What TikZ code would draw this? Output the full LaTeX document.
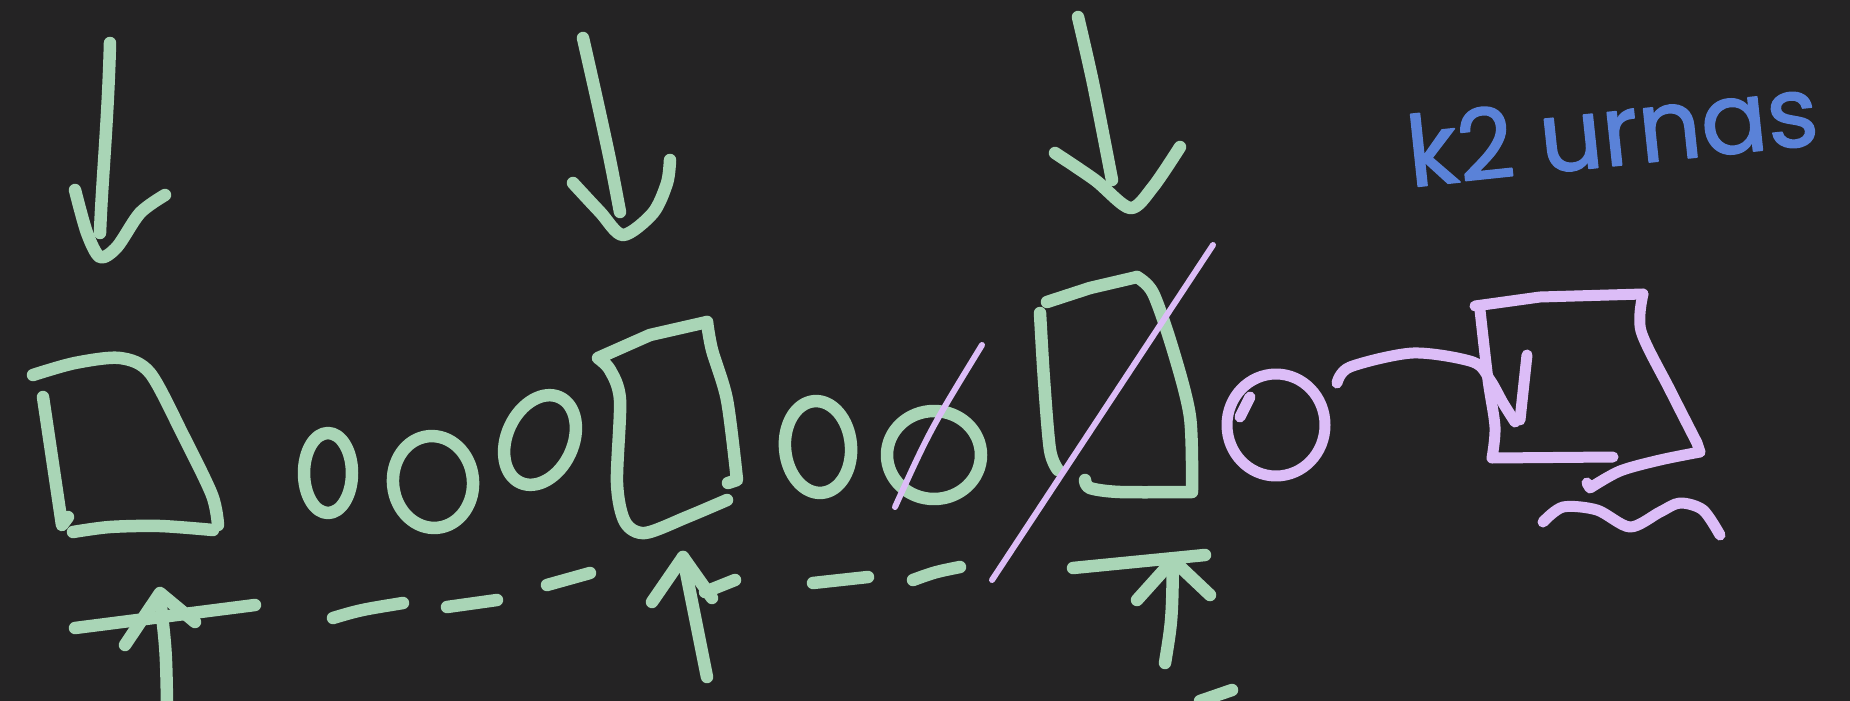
\documentclass[tikz,border=0pt]{standalone}
\usepackage{fontspec}
\newfontfamily\handfont[FakeBold=1.6]{Poppins}
\definecolor{bg}{HTML}{242324}
\definecolor{mint}{HTML}{A9D5B6}
\definecolor{lilac}{HTML}{DCBDF7}
\definecolor{ink}{HTML}{5A82D8}
\begin{document}
\begin{tikzpicture}[x=1pt,y=-1pt,line cap=round,line join=round,
  pen/.style={draw=mint,line width=12.5pt},
  lpen/.style={draw=lilac,line width=11pt},
  fpen/.style={draw=lilac,line width=6pt}]
\fill[bg] (0,0) rectangle (1850,701);
\useasboundingbox (0,0) rectangle (1850,701);
% top arrows
\draw[pen] (110,43) .. controls (108,120) and (102,180) .. (100,233);
\draw[pen] plot[smooth] coordinates {(75,190) (87,233) (100,257) (117,247) (140,213) (165,195)};
\draw[pen] plot[smooth] coordinates {(583,38) (597,100) (610,160) (620,212)};
\draw[pen] plot[smooth] coordinates {(573,183) (600,212) (623,235) (653,213) (667,183) (670,160)};
\draw[pen] plot[smooth] coordinates {(1078,17) (1093,83) (1112,180)};
\draw[pen] plot[smooth] coordinates {(1055,153) (1095,180) (1130,208) (1153,187) (1180,147)};
% box 1
\draw[pen] plot[smooth] coordinates {(33,375) (75,363) (120,358) (150,373) (183,435) (212,495) (218,525)};
\draw[pen] plot[smooth] coordinates {(73,532) (110,527) (160,526) (213,530)};
\draw[pen] (43,397) -- (62,525) -- (68,517);
% small ellipses
\draw[pen] (328,473) ellipse (24 and 40);
\draw[pen,rotate around={6:(433,482)}] (433,482) ellipse (40 and 46);
\draw[pen,rotate around={-25:(540,440)}] (540,440) ellipse (33 and 47);
% box 2
\draw[pen] plot[smooth] coordinates {(727,500) (687,517) (645,533) (625,522) (617,483) (620,400) (610,370) (598,358)} -- (650,335) -- (707,322);
\draw[pen] plot[smooth] coordinates {(707,322) (712,350) (727,400) (737,480)} -- (728,483);
% ellipses d, e
\draw[pen,rotate around={5:(818,447)}] (818,447) ellipse (33 and 46);
\draw[pen] (934,455) ellipse (47 and 44);
% box 3
\draw[pen] (1047,302) -- (1090,288) -- (1137,277);
\draw[pen] plot[smooth] coordinates {(1137,277) (1153,293) (1173,350) (1190,417) (1192,490)};
\draw[pen] plot[smooth] coordinates {(1085,480) (1090,488) (1120,492) (1192,492)};
\draw[pen] plot[smooth] coordinates {(1040,313) (1044,380) (1050,450) (1058,470)};
% dashes
\draw[pen] (333,618) .. controls (360,610) .. (403,603);
\draw[pen] (447,607) -- (497,600);
\draw[pen] (547,585) -- (590,573);
\draw[pen] (813,583) -- (868,577);
\draw[pen] (913,580) .. controls (935,572) .. (960,567);
% up arrows
\draw[pen] (167,701) .. controls (166,650) .. (160,598);
\draw[pen] (125,645) -- (160,593) -- (195,622);
\draw[pen] (75,628) -- (255,605);
\draw[pen] (707,677) -- (683,557);
\draw[pen] (652,602) -- (683,557) -- (712,598);
\draw[pen] (705,592) -- (735,580);
\draw[pen] (1165,663) .. controls (1172,620) .. (1173,560);
\draw[pen] (1137,600) -- (1173,560) -- (1210,595);
\draw[pen] (1073,568) -- (1205,555);
\draw[pen] (1200,701) -- (1232,690);
% lilac strokes
\draw[fpen] (992,580) -- (1213,245);
\draw[fpen] (895,507) .. controls (930,430) .. (982,345);
\draw[lpen] (1276,425) ellipse (49 and 51);
\draw[lpen] (1240,417) -- (1250,397);
\draw[lpen] plot[smooth] coordinates {(1337,383) (1350,367) (1413,353) (1473,362) (1490,380) (1503,403) (1515,422)};
\draw[lpen] (1527,355) -- (1520,420);
\draw[lpen] (1475,306) -- (1540,297) -- (1643,294);
\draw[lpen] plot[smooth] coordinates {(1643,294) (1641,331) (1670,390) (1697,443)} -- (1700,452);
\draw[lpen] plot[smooth] coordinates {(1700,452) (1660,460) (1620,471) (1590,488)} -- (1587,483);
\draw[lpen] plot[smooth] coordinates {(1480,310) (1488,380) (1495,427) (1492,458)} -- (1613,457);
\draw[lpen] plot[smooth] coordinates {(1543,522) (1563,507) (1597,510) (1630,527) (1660,512) (1680,503) (1703,510) (1720,535)};
% text
\node[text=ink,rotate=6,font=\handfont\fontsize{98}{98}\selectfont] (urnas) at (1612,130) {k2 urnas};
\end{tikzpicture}
\end{document}
